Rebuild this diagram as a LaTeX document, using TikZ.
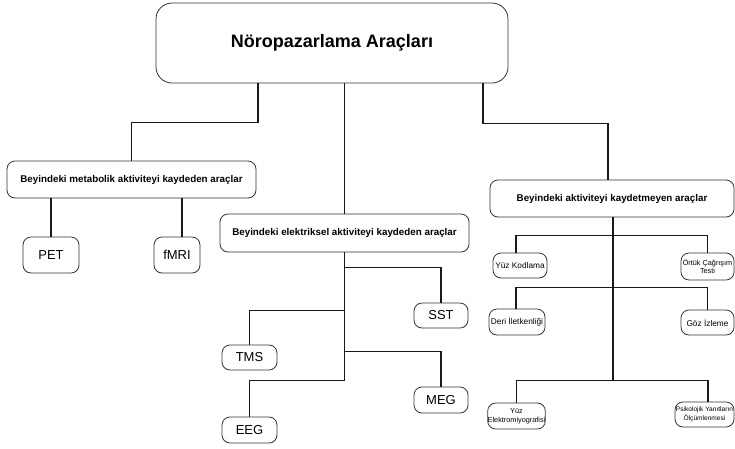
\documentclass[tikz,border=0pt]{standalone}
\usepackage{fontspec}
\setmainfont{Liberation Sans}
\begin{document}
\begin{tikzpicture}[x=1pt,y=-1pt,
  box/.style={draw=black!80,line width=0.8pt,rounded corners=8pt,inner sep=0pt,align=center,fill=white},
  bigbox/.style={box,rounded corners=16pt,font=\bfseries\fontsize{18}{21}\selectfont},
  midbox/.style={box,font=\bfseries\fontsize{9.8}{11}\selectfont},
  leaf/.style={box,font=\fontsize{13}{15}\selectfont},
  small/.style={box,font=\fontsize{8.3}{10}\selectfont},
  tiny/.style={box,font=\fontsize{7.3}{8.8}\selectfont},
  conn/.style={draw=black!90,line width=1.3pt}]
\path[use as bounding box] (0,0) rectangle (735,448);

\node[bigbox,minimum width=352pt,minimum height=80pt] (top) at (332,43) {Nöropazarlama Araçları};

\node[midbox,minimum width=249pt,minimum height=37pt] (met) at (131.5,179.5) {Beyindeki metabolik aktiviteyi kaydeden araçlar};
\node[midbox,minimum width=249pt,minimum height=38pt] (elek) at (344.5,233) {Beyindeki elektriksel aktiviteyi kaydeden araçlar};
\node[midbox,minimum width=244pt,minimum height=37pt] (right) at (612,198.5) {Beyindeki aktiviteyi kaydetmeyen araçlar};

\node[leaf,minimum width=56pt,minimum height=36pt] (pet) at (51,255) {PET};
\node[leaf,minimum width=46pt,minimum height=36pt] (fmri) at (177,255) {fMRI};

\node[leaf,minimum width=54pt,minimum height=25pt] (sst) at (441,315.5) {SST};
\node[leaf,minimum width=55pt,minimum height=25pt] (tms) at (249.5,357.5) {TMS};
\node[leaf,minimum width=54pt,minimum height=26pt] (meg) at (441,400) {MEG};
\node[leaf,minimum width=55pt,minimum height=26pt] (eeg) at (249.5,430) {EEG};

\node[small,minimum width=54pt,minimum height=25pt] (yk) at (520,265.5) {Yüz Kodlama};
\node[tiny,minimum width=53pt,minimum height=27pt] (ortuk) at (707.5,266.5) {Örtük Çağrışım\\Testi};
\node[small,minimum width=56pt,minimum height=26pt] (deri) at (517,322) {Deri İletkenliği};
\node[small,minimum width=53pt,minimum height=25pt] (goz) at (707.5,322.5) {Göz İzleme};
\node[tiny,minimum width=56pt,minimum height=26pt] (yem) at (516.5,416) {Yüz\\Elektromiyografisi};
\node[tiny,font=\fontsize{6.6}{8.5}\selectfont,minimum width=59pt,minimum height=25pt] (psik) at (704.5,414.5) {Psikolojik Yanıtların\\Ölçümlenmesi};

% top level connectors
\draw[conn] ([xshift=-74pt]top.south) -- ++(0,39) -| (met.north);
\draw[conn] (top.south -| elek.north) -- (elek.north);
\draw[conn] ([xshift=151pt]top.south) -- ++(0,40) -| ([xshift=-4pt]right.north);

% metabolic
\draw[conn] (met.south -| pet.north) -- (pet.north);
\draw[conn] ([xshift=5pt]met.south -| fmri.north) -- ([xshift=5pt]fmri.north);

% electrical
\draw[conn] (elek.south) -- ([yshift=-128pt]elek.south);
\draw[conn] ([yshift=-15pt]elek.south) -| (sst.north);
\draw[conn] ([yshift=-58pt]elek.south) -| (tms.north);
\draw[conn] ([yshift=-99pt]elek.south) -| (meg.north);
\draw[conn] ([yshift=-128pt]elek.south) -| (eeg.north);

% right
\draw[conn] ([xshift=1pt]right.south) -- ([xshift=1pt,yshift=-163pt]right.south);
\draw[conn] ([xshift=1pt,yshift=-18pt]right.south) -| ([xshift=-4pt]yk.north);
\draw[conn] ([xshift=1pt,yshift=-18pt]right.south) -| (ortuk.north);
\draw[conn] ([xshift=1pt,yshift=-70pt]right.south) -| ([xshift=-1pt]deri.north);
\draw[conn] ([xshift=1pt,yshift=-70pt]right.south) -| (goz.north);
\draw[conn] ([xshift=1pt,yshift=-163pt]right.south) -| (yem.north);
\draw[conn] ([xshift=1pt,yshift=-163pt]right.south) -| ([xshift=3.5pt]psik.north);
\end{tikzpicture}
\end{document}
